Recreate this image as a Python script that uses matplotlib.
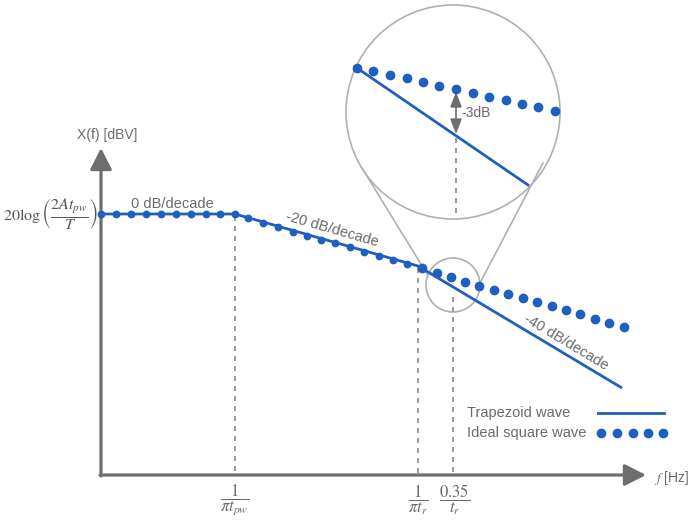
import numpy as np
import matplotlib
matplotlib.use('Agg')
import matplotlib.pyplot as plt

plt.rcParams['font.family'] = ['Liberation Sans', 'DejaVu Sans']
plt.rcParams['mathtext.fontset'] = 'stix'

# schematic drawn in picture coordinates (x right, y down)
blue = '#1f5fbf'
gray = '#6e6e6e'
tgray = '#6a6a6a'

# trapezoid wave corner points
trap_x = [101, 235, 418, 622]
trap_y = [214, 214, 266, 388]

# ideal square wave dots (small, on top of the trapezoid line)
sq_small_x = [101, 116, 131, 146, 161, 176, 191, 206, 220, 235,
              248, 263, 278, 293, 307, 321, 335, 350, 364, 379, 393, 407]
sq_small_y = [214, 214, 214, 214, 214, 214, 214, 214, 214, 214,
              218, 223, 227, 232, 236, 240, 243, 247, 252, 256, 260, 264]
# ideal square wave dots after the rise-time corner
sq_big_x = [422, 437, 451, 465, 479, 494, 508, 523, 537, 552, 566, 580, 595, 609, 624]
sq_big_y = [268, 273, 277, 282, 286, 290, 294, 298, 302, 306, 310, 314, 319, 323, 327]

# magnified view
zoom_trap_x = [357, 528]
zoom_trap_y = [68, 185]
zoom_sq_x = [357, 373, 390, 407, 423, 439, 456, 473, 489, 506, 522, 538, 555]
zoom_sq_y = [68, 71, 75, 78, 82, 86, 89, 93, 97, 100, 104, 107, 111]

# x tick positions and labels
tick_x = [235, 418, 455]
tick_labels = [r'$\dfrac{1}{\pi t_{pw}}$', r'$\dfrac{1}{\pi t_r}$', r'$\dfrac{0.35}{t_r}$']

legend_dots_x = [601, 617, 633, 648, 663]

fig = plt.figure(figsize=(6.89, 5.21), dpi=100)
ax = fig.add_axes([0, 0, 1, 1])
ax.set_xlim(0, 689)
ax.set_ylim(521, 0)
ax.axis('off')

# axes with arrows
ax.annotate('', xy=(101, 148), xytext=(101, 476),
            arrowprops=dict(arrowstyle='-|>,head_length=0.65,head_width=0.33',
                            mutation_scale=20, lw=2.3, color=gray, shrinkA=0, shrinkB=0))
ax.annotate('', xy=(646, 475), xytext=(100, 475),
            arrowprops=dict(arrowstyle='-|>,head_length=0.65,head_width=0.33',
                            mutation_scale=20, lw=2.3, color=gray, shrinkA=0, shrinkB=0))

# dashed guide lines
ax.plot([235, 235], [216, 474], ls=(0, (3, 3)), color='#8a8a8a', lw=1.2)
ax.plot([418, 418], [268, 474], ls=(0, (3, 3)), color='#8a8a8a', lw=1.2)
ax.plot([453, 453], [297, 474], ls=(0, (3, 3)), color='#8a8a8a', lw=1.2)
ax.plot([456, 456], [138, 218], ls=(0, (3, 3)), color='#8a8a8a', lw=1.2)

# magnifier circles and connectors
ax.add_patch(plt.Circle((453, 112), 107, fill=False, ec='#b0b0b0', lw=1.2))
ax.add_patch(plt.Circle((453, 285), 27, fill=False, ec='#b0b0b0', lw=1.2))
ax.plot([362, 427], [168, 274], color='#b0b0b0', lw=1.2)
ax.plot([543, 480], [163, 283], color='#b0b0b0', lw=1.2)

# curves
ax.plot(trap_x, trap_y, color=blue, lw=2.0, solid_capstyle='butt', zorder=3)
ax.plot(sq_small_x, sq_small_y, 'o', color=blue, ms=4.6, zorder=4)
ax.plot(sq_big_x, sq_big_y, 'o', color=blue, ms=6.0, zorder=4)
ax.plot(zoom_trap_x, zoom_trap_y, color=blue, lw=2.0, zorder=3)
ax.plot(zoom_sq_x, zoom_sq_y, 'o', color=blue, ms=6.0, zorder=4)

# -3dB arrow
ax.annotate('', xy=(456, 92), xytext=(456, 134),
            arrowprops=dict(arrowstyle='<|-|>,head_length=0.9,head_width=0.35',
                            mutation_scale=10, lw=1.2, color=gray, shrinkA=0, shrinkB=0))
ax.text(461, 113, '-3dB', color=tgray, fontsize=10, va='center', ha='left')

# texts
ax.text(107, 135, 'X(f) [dBV]', color=tgray, fontsize=10, ha='center', va='center')
ax.text(98, 214, r'$20\log\left(\dfrac{2At_{pw}}{T}\right)$', color='#555555',
        fontsize=11.5, ha='right', va='center')
ax.text(172, 204, '0 dB/decade', color=tgray, fontsize=10.5, ha='center', va='center')
ax.text(332, 229, '-20 dB/decade', color=tgray, fontsize=10.5, ha='center', va='center',
        rotation=-16, rotation_mode='anchor')
ax.text(566, 342, '-40 dB/decade', color=tgray, fontsize=10.5, ha='center', va='center',
        rotation=-31, rotation_mode='anchor')
ax.text(654, 478, r'$f$ [Hz]', color=tgray, fontsize=10, ha='left', va='center')

for tx, tl in zip(tick_x, tick_labels):
    ax.text(tx, 500, tl, color=tgray, fontsize=12, ha='center', va='center')

# legend
ax.text(467, 413, 'Trapezoid wave', color=tgray, fontsize=10.5, ha='left', va='center')
ax.text(467, 433, 'Ideal square wave', color=tgray, fontsize=10.5, ha='left', va='center')
ax.plot([598, 664], [413, 413], color=blue, lw=2.0)
ax.plot(legend_dots_x, [433] * len(legend_dots_x), 'o', color=blue, ms=6.0)

plt.savefig('out.png', dpi=100)
plt.close()
